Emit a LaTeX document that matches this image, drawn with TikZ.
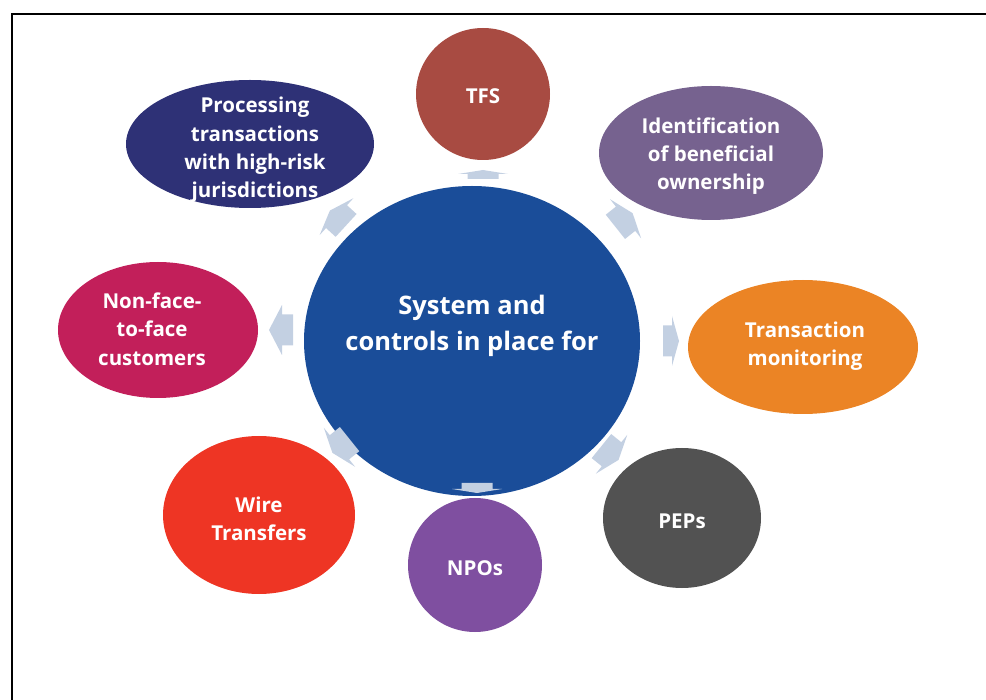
\documentclass[tikz,border=0pt]{standalone}
\usepackage{fontspec}
\setmainfont{Open Sans}
\definecolor{cmain}{HTML}{1A4D99}
\definecolor{ctfs}{HTML}{A84B42}
\definecolor{cproc}{HTML}{2E3176}
\definecolor{cident}{HTML}{76628F}
\definecolor{ctrans}{HTML}{EB8425}
\definecolor{cpep}{HTML}{525252}
\definecolor{cnpo}{HTML}{7F4FA0}
\definecolor{cwire}{HTML}{EE3524}
\definecolor{cnon}{HTML}{C21F5A}
\definecolor{carrow}{HTML}{C3D0E2}
\tikzset{
  sat/.style={font=\bfseries\fontsize{20.5}{28.3}\selectfont, text=white, align=center, inner sep=0pt},
  bigtxt/.style={font=\bfseries\fontsize{25.5}{36}\selectfont, text=white, align=center, inner sep=0pt},
  arrowfill/.style={fill=carrow, draw=none},
}
% #1 name, #2 position, #3 angle, #4 length, #5 head length
\newcommand\blockarr[5]{%
  \begin{scope}[shift={#2}, rotate=#3]
    \coordinate (#1) at (0,0);
    \pgfmathsetmacro\hl{#4/2}
    \pgfmathsetmacro\hb{#4/2-#5}
    \fill[arrowfill] (-\hl,-15.5) -- (\hb,-15.5) -- (\hb,-25) -- (\hl,0)
      -- (\hb,25) -- (\hb,15.5) -- (-\hl,15.5) -- cycle;
  \end{scope}}
\begin{document}
\begin{tikzpicture}[x=1pt,y=-1pt]
\useasboundingbox (0,0) rectangle (986,700);
\clip (0,0) rectangle (986,700);
\draw[line width=1.6pt] (12,14) rectangle (1100,800);
% ellipses
\fill[cmain] (472,341) ellipse [x radius=168, y radius=155];
\fill[ctfs] (483,94) ellipse [x radius=67, y radius=66];
\fill[cproc] (250,144) ellipse [x radius=124, y radius=64];
\fill[cident] (711,153) ellipse [x radius=112, y radius=67];
\fill[ctrans] (803,347) ellipse [x radius=115, y radius=67];
\fill[cpep] (682,518) ellipse [x radius=79, y radius=70];
\fill[cnpo] (475,565) ellipse [x radius=67, y radius=67];
\fill[cwire] (259,515) ellipse [x radius=96, y radius=79];
\fill[cnon] (158,330) ellipse [x radius=100, y radius=68];
% texts
\node[bigtxt] (main) at (472,326) {System and\\controls in place for};
\node[sat] (tfs) at (483,96) {TFS};
\node[sat] (proc) at (255,150) {Processing\\transactions\\with high-risk\\jurisdictions};
\node[sat] (ident) at (711,156) {Identification\\of beneficial\\ownership};
\node[sat] (trans) at (805,346) {Transaction\\monitoring};
\node[sat] (pep) at (682,521) {PEPs};
\node[sat] (npo) at (475,568) {NPOs};
\node[sat] (wire) at (259,519) {Wire\\Transfers};
\node[sat] (non) at (152,329) {Non-face-\\to-face\\customers};
% arrows
\blockarr{a1}{(483,174.5)}{90}{9}{4}
\blockarr{a2}{(624,220)}{38.5}{22}{9}
\blockarr{a3}{(671,341)}{0}{16}{7}
\blockarr{a4}{(610,453)}{-39}{22}{9}
\blockarr{a5}{(477,488)}{-90}{10}{4}
\blockarr{a6}{(341,446)}{218.7}{22}{9}
\blockarr{a7}{(281,330)}{180}{24}{13}
\blockarr{a8}{(338,218)}{137.5}{22}{9}
\end{tikzpicture}
\end{document}
